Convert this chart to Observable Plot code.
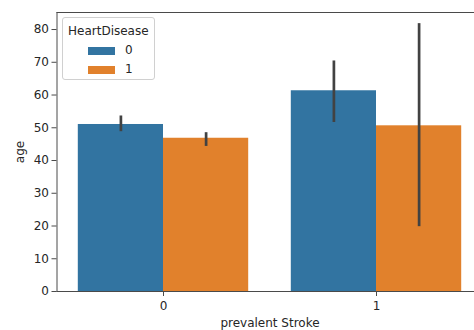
<!DOCTYPE html>
<html><head><meta charset="utf-8">
<script src="https://cdn.jsdelivr.net/npm/d3@7"></script>
<script src="https://cdn.jsdelivr.net/npm/@observablehq/plot@0.6"></script>
<style>
html,body{margin:0;padding:0;background:#fff;overflow:hidden;}
#wrap{position:relative;width:474px;height:330px;overflow:hidden;font-family:"DejaVu Sans",sans-serif;}
#legend{position:absolute;left:62px;top:17px;width:93px;height:63px;box-sizing:border-box;border:1px solid #d0d0d0;border-radius:3px;background:rgba(255,255,255,0.85);font-size:12px;color:#262626;}
#legend .title{position:absolute;left:5px;top:6px;white-space:nowrap;}
#legend .sw{position:absolute;left:25px;width:27px;height:8px;}
#legend .lab{position:absolute;left:62px;}
</style>
</head><body>
<div id="wrap"></div>
<script>
const strokeCats = [0, 1];
const heartDiseaseCats = ["0", "1"];
const seriesColors = ["#3274a1", "#e1812c"];
// mean age per prevalent Stroke category, for HeartDisease = 0 and 1
const meanAgeHD0 = [51.0, 61.3];
const meanAgeHD1 = [46.8, 50.6];
// confidence intervals
const ciLowHD0 = [48.8, 51.6];
const ciHighHD0 = [53.6, 70.4];
const ciLowHD1 = [44.3, 19.8];
const ciHighHD1 = [48.5, 81.8];
const yTicks = [0, 10, 20, 30, 40, 50, 60, 70, 80];

const barWidth = 0.4;
const rows = [];
strokeCats.forEach((s, i) => {
  [[meanAgeHD0, ciLowHD0, ciHighHD0], [meanAgeHD1, ciLowHD1, ciHighHD1]].forEach((arr, h) => {
    const x1 = s - barWidth + h * barWidth;
    rows.push({stroke: s, hd: heartDiseaseCats[h], x1, x2: x1 + barWidth, xc: x1 + barWidth / 2,
      age: arr[0][i], lo: arr[1][i], hi: arr[2][i]});
  });
});

const spine = {stroke: "#4a4a4a", strokeWidth: 1};
const chart = Plot.plot({
  width: 474,
  height: 330,
  marginLeft: 56.5,
  marginRight: -8.5,
  marginTop: 12,
  marginBottom: 39,
  style: {fontFamily: "DejaVu Sans, sans-serif", fontSize: "12px", color: "#262626", background: "#fff"},
  x: {domain: [-0.5, 1.5]},
  y: {domain: [0, 85.2]},
  color: {domain: heartDiseaseCats, range: seriesColors},
  marks: [
    Plot.rectY(rows, {x1: "x1", x2: "x2", y: "age", fill: "hd"}),
    Plot.ruleX(rows, {x: "xc", y1: "lo", y2: "hi", stroke: "#424242", strokeWidth: 2.7}),
    Plot.frame({anchor: "top", ...spine}),
    Plot.frame({anchor: "left", ...spine}),
    Plot.frame({anchor: "bottom", ...spine}),
    Plot.axisY({ticks: yTicks, tickSize: 5, tickPadding: 3, fontSize: 12, label: "age", labelAnchor: "center", labelArrow: false, labelOffset: 42, stroke: "#4a4a4a"}),
    Plot.axisX({ticks: strokeCats, tickSize: 5, tickPadding: 5, fontSize: 12, tickFormat: d => String(d), label: "prevalent Stroke", labelAnchor: "center", labelArrow: false, labelOffset: 35, stroke: "#4a4a4a"})
  ]
});
const wrap = document.getElementById("wrap");
wrap.appendChild(chart);

const leg = document.createElement("div");
leg.id = "legend";
leg.innerHTML = `<div class="title">HeartDisease</div>` +
  heartDiseaseCats.map((c, i) => `<div class="sw" style="top:${29 + i * 19}px;background:${seriesColors[i]}"></div><div class="lab" style="top:${25 + i * 19}px">${c}</div>`).join("");
wrap.appendChild(leg);
</script>
</body></html>
